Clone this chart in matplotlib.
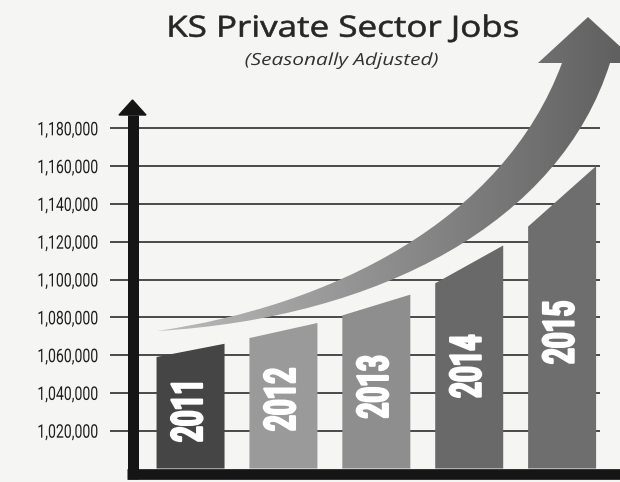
import matplotlib
matplotlib.use('Agg')
import matplotlib.pyplot as plt
import numpy as np
from matplotlib import font_manager
from matplotlib.path import Path
from matplotlib.patches import PathPatch, Polygon
from matplotlib.colors import LinearSegmentedColormap
from matplotlib.patheffects import AbstractPathEffect
from matplotlib.transforms import Affine2D

# data (start / end of each year's slanted bar)
years = ['2011', '2012', '2013', '2014', '2015']
jobs_start = [1059000, 1069000, 1081000, 1098000, 1128000]
jobs_end = [1066000, 1077000, 1092000, 1118000, 1160000]
bar_colors = ['#454545', '#9a9a9a', '#8e8e8e', '#696969', '#6e6e6e']
ytick_values = [1020000, 1040000, 1060000, 1080000, 1100000,
                1120000, 1140000, 1160000, 1180000]
ytick_labels = ['1,020,000', '1,040,000', '1,060,000', '1,080,000', '1,100,000',
                '1,120,000', '1,140,000', '1,160,000', '1,180,000']


class Stretch(AbstractPathEffect):
    """scale (and optionally thicken) the drawn glyphs, text stays a Text"""

    def __init__(self, sx=1.0, sy=1.0, anchor='center', lw=0.0):
        super().__init__()
        self.sx, self.sy, self.anchor, self.lw = sx, sy, anchor, lw

    def draw_path(self, renderer, gc, tpath, affine, rgbFace=None):
        ext = tpath.get_extents(affine)
        cx = ext.x0 if self.anchor == 'left' else (ext.x0 + ext.x1) / 2
        cy = (ext.y0 + ext.y1) / 2
        aff = affine + Affine2D().translate(-cx, -cy).scale(self.sx, self.sy).translate(cx, cy)
        gc0 = renderer.new_gc()
        gc0.copy_properties(gc)
        if self.lw > 0 and rgbFace is not None:
            gc0.set_linewidth(self.lw)
            gc0.set_foreground(rgbFace)
            gc0.set_joinstyle('round')
        renderer.draw_path(gc0, tpath, aff, rgbFace)
        gc0.restore()


names = {f.name for f in font_manager.fontManager.ttflist}
label_font = 'Roboto' if 'Roboto' in names else 'DejaVu Sans'
title_font = 'Open Sans' if 'Open Sans' in names else 'DejaVu Sans'

W, H = 620, 482
fig = plt.figure(figsize=(W / 100, H / 100), dpi=100, facecolor='#f5f5f4')

# main chart area
ax = fig.add_axes([110 / W, 1 - 468.5 / H, 490 / W, 378 / H])
ax.set_facecolor('none')
ax.set_xlim(-0.867, 4.408)
ax.set_ylim(1000000, 1200000)
base = ax.get_ylim()[0]

bar_w = 0.732
for i, (yr, s, e, c) in enumerate(zip(years, jobs_start, jobs_end, bar_colors)):
    ax.fill([i - bar_w / 2, i + bar_w / 2, i + bar_w / 2, i - bar_w / 2],
            [base, base, e, s], color=c, lw=0, zorder=2)
    ax.text(i, (base + (s + e) / 2) / 2, yr, rotation=90, ha='center', va='center',
            color='white', fontsize=31, fontweight='bold', family=label_font, zorder=3,
            path_effects=[Stretch(sy=0.64, lw=1.6)])

ax.set_yticks(ytick_values)
ax.set_yticklabels(ytick_labels)
ax.set_xticks([])
ax.grid(axis='y', color='#1c1c1c', lw=1.1)
ax.set_axisbelow(True)
for sp in ax.spines.values():
    sp.set_visible(False)
ax.tick_params(axis='y', length=0, pad=52.6, labelsize=13.5, labelcolor='#1e1e1e')
for lab in ax.get_yticklabels():
    lab.set_horizontalalignment('left')
    lab.set_family(label_font)
    lab.set_path_effects([Stretch(sx=0.75, anchor='left')])

# decoration overlay in pixel coordinates
ov = fig.add_axes([0, 0, 1, 1], zorder=3)
ov.patch.set_alpha(0)
ov.axis('off')

verts = [(157, 331), (330, 306), (503, 222), (562, 63),
         (538, 63), (588, 17), (638, 63), (610, 63),
         (560, 222), (380, 318), (157, 331), (157, 331)]
codes = [Path.MOVETO, Path.CURVE4, Path.CURVE4, Path.CURVE4,
         Path.LINETO, Path.LINETO, Path.LINETO, Path.LINETO,
         Path.CURVE4, Path.CURVE4, Path.CURVE4, Path.CLOSEPOLY]
arrow = PathPatch(Path(verts, codes), facecolor='none', edgecolor='none')
ov.add_patch(arrow)
cmap = LinearSegmentedColormap.from_list('arr', ['#bdbdbd', '#8c8c8c', '#5c5c5c'])
grad = np.linspace(0, 1, 256).reshape(1, -1)
im = ov.imshow(grad, cmap=cmap, extent=(150, 640, 340, 10), aspect='auto',
               interpolation='bilinear')
im.set_clip_path(arrow)

# axis lines with arrow on y
ov.plot([132.5, 132.5], [115, 479], color='#151515', lw=11 * 0.72, solid_capstyle='butt')
ov.plot([127, 620], [473.7, 473.7], color='#151515', lw=10.7 * 0.72, solid_capstyle='butt')
ov.add_patch(Polygon([(119, 115), (146, 115), (132.5, 100)], closed=True, color='#151515'))
ov.set_xlim(0, W)
ov.set_ylim(H, 0)

fig.text(343 / W, 1 - 36.7 / H, 'KS Private Sector Jobs', ha='center', va='baseline',
         fontsize=21, family=title_font, color='#262626',
         path_effects=[Stretch(sx=1.2, lw=0.45)])
fig.text(341.5 / W, 1 - 65 / H, '(Seasonally Adjusted)', ha='center', va='baseline',
         fontsize=12, style='italic', family=title_font, color='#333333',
         path_effects=[Stretch(sx=1.25)])

fig.savefig('out.png', dpi=100, facecolor=fig.get_facecolor())
